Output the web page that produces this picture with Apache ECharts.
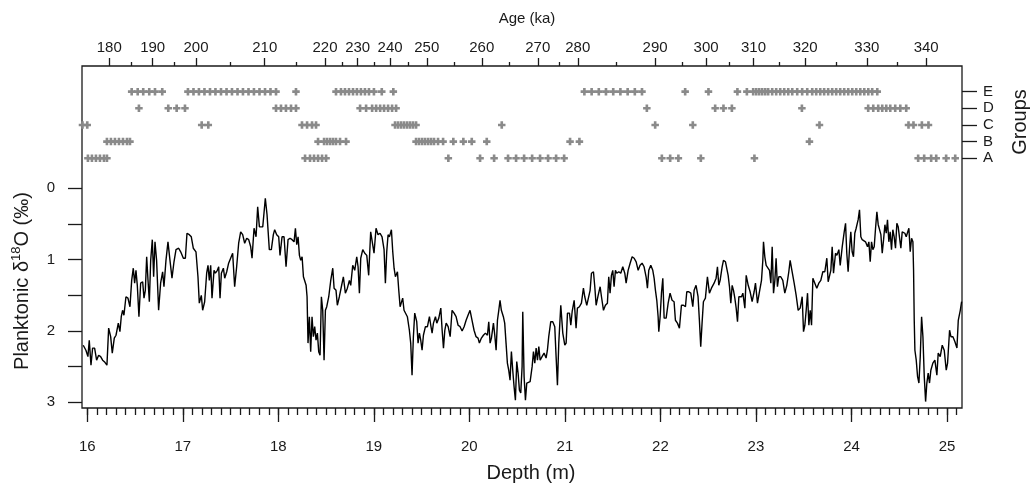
<!DOCTYPE html>
<html><head><meta charset="utf-8">
<script src="https://cdn.jsdelivr.net/npm/echarts@6/dist/echarts.min.js"></script>
<style>html,body{margin:0;padding:0;background:#fff}#c{width:1032px;height:484px}</style>
</head><body><div id="c"></div>
<script>
const FONT = "'Liberation Sans', Arial, Helvetica, sans-serif";
const INK = '#1a1a1a';

// Bottom axis (depth, m)
const depthTicks = [16, 17, 18, 19, 20, 21, 22, 23, 24, 25];
// Left axis (planktonic d18O, permil, inverted)
const d18OTicks = [0, 0.5, 1, 1.5, 2, 2.5, 3];
const d18OLabels = [0, 1, 2, 3];
// Top axis (age, ka) placed at their depths
const ageLabels = [180, 190, 200, 210, 220, 230, 240, 250, 260, 270, 280, 290, 300, 310, 320, 330, 340];
const ageTickDepths = [16.230, 16.685, 17.138, 17.858, 18.489, 18.831, 19.170, 19.554, 20.130, 20.716, 21.135, 21.944, 22.478, 22.974, 23.515, 24.161, 24.782];
const ageMinorLabels = [185, 195, 205, 215, 225, 235, 245, 255, 265, 275, 285, 295, 305, 315, 325, 335];
const ageMinorDepths = [16.458, 16.911, 17.502, 18.185, 18.674, 19.009, 19.361, 19.843, 20.419, 20.939, 21.536, 22.224, 22.723, 23.243, 23.837, 24.482];

// Groups (depths where each group is present)
const groupNames = ['A', 'B', 'C', 'D', 'E'];
const groupA = [16.007,16.049,16.091,16.133,16.175,16.206,18.280,18.332,18.374,18.416,18.458,18.500,19.780,20.112,20.259,20.405,20.489,20.573,20.657,20.740,20.824,20.908,20.992,22.015,22.102,22.188,22.423,22.984,24.698,24.761,24.834,24.887,24.991,25.086];
const groupB = [16.206,16.248,16.290,16.332,16.374,16.416,16.447,18.416,18.479,18.510,18.542,18.573,18.604,18.646,18.709,19.442,19.473,19.505,19.536,19.568,19.599,19.630,19.672,19.725,19.832,19.937,20.025,20.182,21.054,21.152,23.560];
const groupC = [15.95,16.00,17.198,17.267,18.248,18.301,18.353,18.395,19.222,19.253,19.285,19.316,19.348,19.379,19.410,19.442,20.339,21.945,22.339,23.665,24.597,24.649,24.737,24.806];
const groupD = [16.541,16.848,16.936,17.023,17.976,18.028,18.080,18.133,18.185,18.856,18.919,18.982,19.024,19.066,19.107,19.149,19.191,19.233,21.858,22.573,22.660,22.748,23.481,24.175,24.228,24.280,24.322,24.364,24.406,24.458,24.511,24.573];
const groupE = [16.465,16.528,16.586,16.649,16.709,16.785,17.054,17.112,17.169,17.227,17.285,17.342,17.400,17.458,17.515,17.573,17.630,17.688,17.745,17.803,17.861,17.918,17.976,18.185,18.604,18.656,18.698,18.740,18.782,18.823,18.865,18.907,18.949,19.001,19.083,19.204,21.204,21.280,21.355,21.430,21.506,21.581,21.657,21.732,21.807,22.259,22.503,22.806,22.905,22.971,23.003,23.034,23.065,23.097,23.128,23.170,23.212,23.254,23.296,23.338,23.380,23.432,23.484,23.537,23.589,23.631,23.673,23.714,23.756,23.798,23.840,23.882,23.924,23.966,24.008,24.050,24.092,24.134,24.176,24.217,24.270];

// Planktonic d18O profile: [depth (m), d18O (permil)]
const d18OProfile = [
[15.958,2.20],[15.986,2.27],[16.007,2.36],[16.021,2.13],[16.039,2.48],[16.056,2.24],[16.077,2.24],[16.098,2.41],[16.119,2.34],[16.140,2.36],
[16.161,2.41],[16.185,2.44],[16.206,2.48],[16.224,1.96],[16.245,2.08],[16.262,2.31],[16.283,2.10],[16.301,2.06],[16.325,1.89],[16.342,2.01],
[16.356,1.80],[16.370,1.71],[16.384,1.78],[16.405,1.52],[16.426,1.54],[16.447,1.66],[16.465,1.29],[16.482,1.12],[16.496,1.33],[16.510,1.15],
[16.524,1.36],[16.541,1.80],[16.559,1.33],[16.580,1.31],[16.594,1.54],[16.608,1.43],[16.622,0.96],[16.636,1.29],[16.650,1.59],[16.664,1.01],
[16.681,0.72],[16.695,1.24],[16.709,0.75],[16.726,1.01],[16.747,1.71],[16.768,1.33],[16.789,1.17],[16.803,1.38],[16.824,1.01],[16.845,0.75],
[16.866,1.01],[16.887,1.26],[16.908,1.03],[16.929,0.86],[16.957,0.84],[16.978,0.89],[17.006,0.98],[17.027,0.98],[17.044,0.63],[17.068,0.65],
[17.089,0.68],[17.110,0.84],[17.138,0.89],[17.159,1.24],[17.173,1.61],[17.194,1.50],[17.208,1.71],[17.229,1.59],[17.250,1.19],[17.264,1.08],
[17.278,1.29],[17.292,1.08],[17.306,1.54],[17.327,1.15],[17.341,1.19],[17.362,1.15],[17.376,1.10],[17.390,1.54],[17.404,1.19],[17.425,1.12],
[17.439,1.26],[17.460,1.17],[17.480,1.05],[17.501,0.98],[17.522,0.91],[17.543,1.38],[17.564,1.10],[17.585,0.77],[17.606,0.61],[17.627,0.65],
[17.648,0.77],[17.669,0.70],[17.690,0.72],[17.711,0.82],[17.725,0.98],[17.746,0.56],[17.767,0.68],[17.784,0.26],[17.802,0.54],[17.819,0.54],
[17.837,0.54],[17.850,0.35],[17.864,0.14],[17.882,0.37],[17.906,0.86],[17.927,0.86],[17.948,0.65],[17.962,0.58],[17.983,0.65],[18.004,0.68],
[18.018,0.94],[18.039,0.68],[18.060,0.68],[18.081,1.10],[18.102,0.72],[18.123,0.70],[18.144,0.72],[18.165,0.75],[18.179,0.56],[18.193,0.79],
[18.207,0.68],[18.221,0.94],[18.235,1.01],[18.249,0.96],[18.263,1.24],[18.277,1.22],[18.291,1.36],[18.301,1.52],[18.311,2.17],[18.325,1.80],
[18.339,2.29],[18.353,1.80],[18.367,2.08],[18.381,1.94],[18.395,2.13],[18.409,2.03],[18.423,2.29],[18.437,2.34],[18.451,1.52],[18.465,1.71],
[18.479,2.41],[18.493,1.71],[18.507,1.66],[18.528,1.52],[18.549,1.29],[18.570,1.12],[18.584,1.40],[18.604,1.43],[18.618,1.64],[18.639,1.52],
[18.660,1.38],[18.681,1.24],[18.702,1.47],[18.723,1.40],[18.744,1.29],[18.758,1.36],[18.779,1.08],[18.800,1.15],[18.821,0.96],[18.835,1.10],
[18.849,1.47],[18.863,0.98],[18.884,0.86],[18.905,0.91],[18.926,0.94],[18.946,1.22],[18.967,0.61],[18.988,0.79],[19.002,0.91],[19.023,0.56],
[19.044,0.65],[19.065,0.63],[19.086,0.68],[19.107,0.86],[19.121,1.33],[19.135,0.89],[19.149,0.65],[19.163,0.68],[19.184,0.58],[19.198,0.89],
[19.212,1.12],[19.226,1.24],[19.247,1.17],[19.261,1.43],[19.275,1.66],[19.289,1.68],[19.302,1.54],[19.316,1.71],[19.330,1.73],[19.351,1.80],
[19.372,1.99],[19.386,2.17],[19.400,2.62],[19.414,2.08],[19.428,1.75],[19.449,1.87],[19.463,2.17],[19.477,2.03],[19.491,2.13],[19.505,2.27],
[19.519,2.06],[19.540,1.94],[19.561,1.94],[19.582,1.80],[19.596,1.92],[19.610,2.03],[19.624,1.89],[19.645,1.80],[19.659,1.89],[19.680,1.82],
[19.701,1.68],[19.715,1.99],[19.729,2.24],[19.743,1.99],[19.757,1.89],[19.778,1.94],[19.799,2.08],[19.819,1.71],[19.840,1.75],[19.861,1.80],
[19.882,1.92],[19.903,1.94],[19.924,2.00],[19.945,1.94],[19.966,1.85],[19.986,1.78],[20.007,1.71],[20.028,1.85],[20.049,1.99],[20.070,2.08],
[20.091,2.10],[20.105,2.17],[20.126,2.10],[20.147,2.06],[20.168,2.03],[20.189,2.06],[20.203,1.87],[20.217,2.17],[20.231,2.10],[20.252,1.89],
[20.266,2.06],[20.280,2.27],[20.294,1.85],[20.308,1.71],[20.321,1.57],[20.335,1.71],[20.356,1.80],[20.370,1.89],[20.384,2.17],[20.398,2.45],
[20.412,2.55],[20.426,2.69],[20.440,2.29],[20.454,2.55],[20.468,2.78],[20.482,2.97],[20.496,2.43],[20.510,2.59],[20.524,2.83],[20.538,2.87],
[20.552,2.50],[20.559,1.73],[20.573,2.64],[20.587,2.97],[20.601,2.73],[20.615,2.73],[20.636,2.71],[20.657,2.50],[20.671,2.29],[20.685,2.45],
[20.699,2.24],[20.713,2.41],[20.727,2.22],[20.741,2.41],[20.761,2.36],[20.782,2.31],[20.803,2.38],[20.817,2.27],[20.831,2.08],[20.852,1.87],
[20.873,1.87],[20.894,1.94],[20.908,2.36],[20.922,2.76],[20.936,2.17],[20.957,1.64],[20.978,2.03],[20.999,2.20],[21.013,2.17],[21.027,1.75],
[21.048,1.75],[21.062,1.92],[21.076,1.73],[21.097,1.57],[21.117,1.96],[21.131,1.68],[21.152,1.66],[21.173,1.61],[21.194,1.40],[21.208,1.52],
[21.229,1.64],[21.243,1.66],[21.264,1.43],[21.278,1.19],[21.299,1.17],[21.313,1.38],[21.327,1.64],[21.348,1.50],[21.369,1.38],[21.383,1.52],
[21.404,1.71],[21.424,1.64],[21.445,1.61],[21.459,1.24],[21.473,1.47],[21.487,1.22],[21.501,1.15],[21.515,1.38],[21.529,1.15],[21.543,1.19],
[21.564,1.17],[21.585,1.19],[21.606,1.10],[21.627,1.19],[21.641,1.33],[21.662,1.15],[21.683,1.05],[21.704,0.96],[21.725,0.98],[21.746,1.03],
[21.767,1.15],[21.787,1.08],[21.808,1.05],[21.829,1.10],[21.850,1.24],[21.864,1.40],[21.878,1.15],[21.899,1.08],[21.920,1.15],[21.934,1.26],
[21.948,1.43],[21.962,1.57],[21.976,1.80],[21.983,2.01],[21.997,1.80],[22.011,1.47],[22.025,1.26],[22.039,1.82],[22.060,1.82],[22.081,1.61],
[22.101,1.47],[22.122,1.57],[22.143,1.59],[22.157,1.85],[22.178,1.89],[22.199,1.96],[22.220,1.64],[22.241,1.64],[22.262,1.66],[22.276,1.45],
[22.297,1.45],[22.318,1.47],[22.339,1.66],[22.353,1.43],[22.373,1.36],[22.394,1.52],[22.408,1.85],[22.422,2.22],[22.436,1.89],[22.450,1.59],
[22.471,1.54],[22.492,1.24],[22.513,1.47],[22.534,1.40],[22.562,1.33],[22.583,1.26],[22.597,1.10],[22.611,1.36],[22.625,1.29],[22.646,1.10],
[22.660,1.01],[22.681,1.03],[22.695,1.05],[22.709,1.22],[22.723,1.38],[22.737,1.61],[22.751,1.36],[22.765,1.43],[22.779,1.54],[22.793,1.68],
[22.807,1.87],[22.821,1.52],[22.835,1.50],[22.849,1.52],[22.863,1.47],[22.884,1.68],[22.898,1.22],[22.919,1.36],[22.939,1.45],[22.960,1.59],
[22.981,1.45],[22.995,1.33],[23.016,1.61],[23.037,1.45],[23.058,1.29],[23.072,1.01],[23.079,0.75],[23.093,0.96],[23.107,1.08],[23.121,1.08],
[23.142,1.15],[23.156,1.33],[23.170,0.82],[23.184,1.47],[23.198,1.29],[23.211,0.98],[23.225,1.38],[23.239,1.24],[23.260,1.24],[23.281,1.29],
[23.302,1.47],[23.323,1.36],[23.344,1.17],[23.358,1.01],[23.379,1.17],[23.400,1.33],[23.421,1.50],[23.442,1.71],[23.463,1.68],[23.484,1.52],
[23.498,2.01],[23.512,1.92],[23.526,1.71],[23.540,1.47],[23.554,1.92],[23.568,1.71],[23.582,1.92],[23.596,1.26],[23.616,1.26],[23.637,1.40],
[23.658,1.33],[23.679,1.29],[23.700,1.17],[23.721,1.17],[23.742,0.98],[23.756,1.31],[23.770,1.29],[23.784,1.15],[23.798,0.82],[23.812,1.19],
[23.833,0.91],[23.847,0.94],[23.868,0.86],[23.882,1.08],[23.903,0.82],[23.924,0.61],[23.938,0.49],[23.951,0.91],[23.965,1.17],[23.979,0.86],
[23.993,0.61],[24.007,0.89],[24.021,0.96],[24.035,0.63],[24.049,0.56],[24.070,0.44],[24.084,0.30],[24.098,0.68],[24.112,0.72],[24.126,0.70],
[24.147,0.75],[24.168,0.82],[24.182,0.75],[24.196,1.03],[24.210,0.75],[24.224,0.86],[24.238,0.82],[24.252,0.56],[24.266,0.33],[24.280,0.51],
[24.294,0.58],[24.308,0.65],[24.322,0.91],[24.336,0.72],[24.350,0.51],[24.364,0.63],[24.377,0.44],[24.391,0.75],[24.405,0.61],[24.419,0.86],
[24.433,0.58],[24.447,0.68],[24.461,0.84],[24.475,0.49],[24.489,0.54],[24.503,0.56],[24.517,0.84],[24.531,0.61],[24.545,0.63],[24.559,0.63],
[24.573,0.68],[24.587,0.70],[24.601,0.56],[24.615,0.89],[24.629,0.70],[24.643,0.75],[24.650,1.15],[24.657,1.85],[24.664,2.27],[24.678,2.41],
[24.692,2.64],[24.706,2.73],[24.720,2.36],[24.734,1.80],[24.748,2.08],[24.762,2.64],[24.776,2.99],[24.789,2.73],[24.803,2.59],[24.817,2.73],
[24.831,2.55],[24.852,2.45],[24.873,2.41],[24.894,2.62],[24.908,2.31],[24.929,2.36],[24.950,2.20],[24.971,2.27],[24.992,2.55],[25.006,2.45],
[25.027,1.99],[25.041,2.08],[25.062,2.08],[25.083,2.15],[25.104,2.24],[25.118,1.85],[25.139,1.71],[25.153,1.59]
];

const DEPTH_MIN = 15.945, DEPTH_MAX = 25.157;
const minorDepthTicks = [];
for (let i = 160; i <= 251; i++) minorDepthTicks.push(i / 10);

const PLUS = 'path://M2.6,0H5.4V2.6H8V5.4H5.4V8H2.6V5.4H0V2.6H2.6Z';
const groups = [groupA, groupB, groupC, groupD, groupE];

function baseX(extra) {
  return Object.assign({
    type: 'value', min: DEPTH_MIN, max: DEPTH_MAX,
    axisLine: { show: false, onZero: false },
    splitLine: { show: false },
    axisLabel: { show: false },
    axisTick: { show: false }
  }, extra);
}
const labelStyle = { color: INK, fontSize: 15, fontFamily: FONT };
const tickLine = { color: INK, width: 1.3 };

const chart = echarts.init(document.getElementById('c'), null, { renderer: 'canvas' });
chart.setOption({
  animation: false,
  backgroundColor: '#fff',
  grid: { left: 82, top: 66, width: 880, height: 342, show: true, borderColor: INK, borderWidth: 1.3, backgroundColor: 'transparent' },
  xAxis: [
    baseX({ position: 'bottom',
      axisTick: { show: true, customValues: depthTicks, length: 14, lineStyle: tickLine },
      axisLabel: Object.assign({ show: true, customValues: depthTicks, margin: 31 }, labelStyle) }),
    baseX({ position: 'bottom',
      axisTick: { show: true, customValues: minorDepthTicks, length: 7, lineStyle: tickLine } }),
    baseX({ position: 'top',
      axisTick: { show: true, customValues: ageTickDepths, length: 8, lineStyle: tickLine },
      axisLabel: Object.assign({ show: true, customValues: ageTickDepths, margin: 11,
        formatter: function (v) {
          let best = 0;
          for (let i = 1; i < ageTickDepths.length; i++) if (Math.abs(ageTickDepths[i] - v) < Math.abs(ageTickDepths[best] - v)) best = i;
          return String(ageLabels[best]);
        } }, labelStyle) }),
    baseX({ position: 'top',
      axisTick: { show: true, customValues: ageMinorDepths, length: 4, lineStyle: tickLine } })
  ],
  yAxis: [
    { type: 'value', position: 'left', inverse: true, min: -1.715, max: 3.08,
      axisLine: { show: false, onZero: false }, splitLine: { show: false },
      axisTick: { show: true, customValues: d18OTicks, length: 14, lineStyle: tickLine },
      axisLabel: Object.assign({ show: true, customValues: d18OLabels, margin: 27 }, labelStyle) },
    { type: 'value', position: 'right', min: -14.0, max: 6.54,
      axisLine: { show: false, onZero: false }, splitLine: { show: false },
      axisTick: { show: true, customValues: [1, 2, 3, 4, 5], length: 15, lineStyle: tickLine },
      axisLabel: Object.assign({ show: true, customValues: [1, 2, 3, 4, 5], margin: 21,
        formatter: function (v) { return groupNames[Math.round(v) - 1]; } }, labelStyle) }
  ],
  series: [
    { type: 'line', xAxisIndex: 0, yAxisIndex: 0, data: d18OProfile, showSymbol: false, symbol: 'none',
      lineStyle: { color: '#000', width: 1.4 }, silent: true }
  ].concat(groups.map(function (g, gi) {
    return { type: 'scatter', name: groupNames[gi], xAxisIndex: 0, yAxisIndex: 1,
      data: g.map(function (d) { return [d, gi + 1]; }),
      symbol: PLUS, symbolSize: 7.5, itemStyle: { color: '#8a8a8a', opacity: 1 }, silent: true };
  })),
  graphic: [
    { type: 'text', x: 22, y: 281, rotation: Math.PI / 2,
      style: { text: '{a|Planktonic δ}{s|18}{a|O (‰)}', align: 'center', verticalAlign: 'middle', fill: INK,
        rich: { a: { fontSize: 20, fontFamily: FONT, fill: INK, lineHeight: 24 },
                s: { fontSize: 13, fontFamily: FONT, fill: INK, verticalAlign: 'top', lineHeight: 24 } } } },
    { type: 'text', x: 531, y: 473,
      style: { text: 'Depth (m)', align: 'center', verticalAlign: 'middle', fill: INK, fontSize: 20, fontFamily: FONT } },
    { type: 'text', x: 527, y: 19,
      style: { text: 'Age (ka)', align: 'center', verticalAlign: 'middle', fill: INK, fontSize: 15, fontFamily: FONT } },
    { type: 'text', x: 1020, y: 122, rotation: Math.PI / 2,
      style: { text: 'Groups', align: 'center', verticalAlign: 'middle', fill: INK, fontSize: 20, fontFamily: FONT } }
  ]
});
</script></body></html>
